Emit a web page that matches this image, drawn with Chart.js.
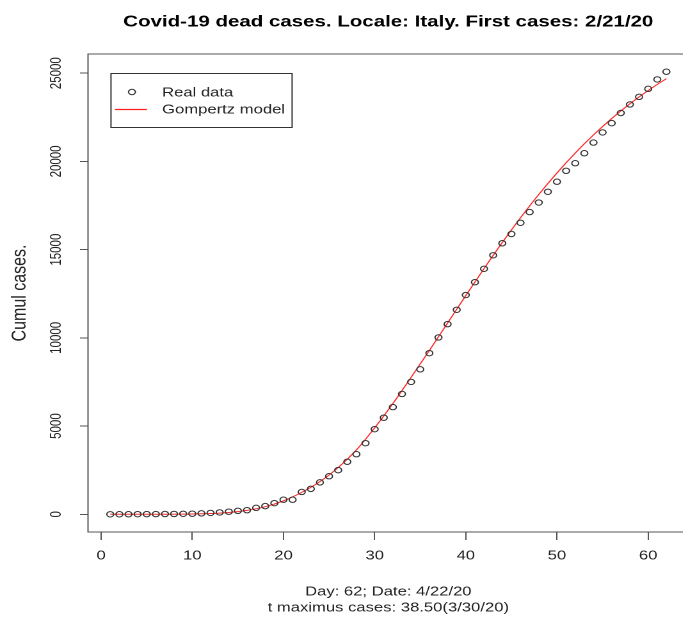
<!DOCTYPE html>
<html>
<head>
<meta charset="utf-8">
<script src="https://cdn.jsdelivr.net/npm/chart.js@4"></script>
<style>
    html, body { margin: 0; padding: 0; background: #fff; overflow: hidden; }
    /* the reference is a horizontally stretched R picture */
    #chart { transform: scale(1.28, 1); transform-origin: 0 0; }
</style>
</head>
<body>
<canvas id="chart" width="560" height="621"></canvas>
<script>
// Данные: день от первого случая и накопленное число умерших
const days = [];
for (let d = 1; d <= 62; d++) days.push(d);
const deaths = [1, 2, 3, 7, 10, 12, 17, 21, 29, 34,
    52, 79, 107, 148, 197, 233, 366, 463, 631, 827,
    827, 1266, 1441, 1809, 2158, 2503, 2978, 3405, 4032, 4825,
    5476, 6077, 6820, 7503, 8215, 9134, 10023, 10779, 11591, 12428,
    13155, 13915, 14681, 15362, 15887, 16523, 17127, 17669, 18279, 18849,
    19468, 19899, 20465, 21067, 21645, 22170, 22745, 23227, 23660, 24114,
    24648, 25085];

// Кривая Гомпертца
const modelDays = [1, 5, 10, 12, 14, 16, 18, 20, 22, 24, 26, 28, 30, 32,
    34, 36, 38, 40, 42, 44, 46, 48, 50, 52, 54, 56, 58, 60, 62];
const modelValues = [0, 1, 16, 44, 105, 224, 431, 761, 1242, 1850, 2650, 3650, 4900, 6280,
    7764, 9284, 10841, 12399, 13927, 15402, 16806, 18125, 19346, 20473, 21500, 22432, 23270, 24022, 24694];

const xTicks = [0, 10, 20, 30, 40, 50, 60];
const yTicks = [0, 5000, 10000, 15000, 20000, 25000];

const titleText = 'Covid-19 dead cases. Locale: Italy. First cases: 2/21/20';
const xTitle = ['Day: 62; Date: 4/22/20', 't maximus cases: 38.50(3/30/20)'];
const yTitle = 'Cumul cases.';

Chart.defaults.font.family = '"Liberation Sans", Arial, sans-serif';
Chart.defaults.color = '#222';

// Рамка вокруг области графика и легенда в стиле R
const rFrame = {
    id: 'rFrame',
    afterDraw(chart) {
        const ctx = chart.ctx;
        const a = chart.chartArea;
        ctx.save();
        ctx.strokeStyle = '#555';
        ctx.lineWidth = 1;
        ctx.strokeRect(a.left, a.top, a.right - a.left, a.bottom - a.top);

        // легенда
        const ds = chart.data.datasets;
        ctx.strokeStyle = '#333';
        ctx.strokeRect(86.7, 73.5, 141.5, 54);

        ctx.beginPath();
        ctx.arc(103.1, 92, 2.7, 0, Math.PI * 2);
        ctx.strokeStyle = '#333';
        ctx.stroke();

        ctx.beginPath();
        ctx.strokeStyle = '#ff2020';
        ctx.lineWidth = 1.3;
        ctx.moveTo(89.8, 109.5);
        ctx.lineTo(114.8, 109.5);
        ctx.stroke();

        ctx.fillStyle = '#222';
        ctx.font = '13px "Liberation Sans", Arial, sans-serif';
        ctx.textBaseline = 'middle';
        ctx.fillText(ds[0].label, 126.6, 93);
        ctx.fillText(ds[1].label, 126.6, 110);
        ctx.restore();
    }
};

new Chart(document.getElementById('chart'), {
    type: 'scatter',
    data: {
        datasets: [{
            label: 'Real data',
            data: days.map((d, i) => ({ x: d, y: deaths[i] })),
            pointRadius: 2.7,
            pointBorderWidth: 1,
            pointBorderColor: '#333',
            pointBackgroundColor: 'rgba(0,0,0,0)'
        }, {
            label: 'Gompertz model',
            data: modelDays.map((d, i) => ({ x: d, y: modelValues[i] })),
            showLine: true,
            pointRadius: 0,
            borderColor: '#ff2a2a',
            borderWidth: 1,
            cubicInterpolationMode: 'monotone'
        }]
    },
    options: {
        responsive: false,
        animation: false,
        devicePixelRatio: 2,
        layout: { padding: { left: 0, right: 22, top: 0, bottom: 0 } },
        plugins: {
            legend: { display: false },
            tooltip: { enabled: false },
            title: {
                display: true,
                fullSize: false,
                text: titleText,
                color: '#000',
                font: { size: 16, weight: 'bold', lineHeight: 1.2 },
                padding: { top: 12.4, bottom: 22.4 }
            }
        },
        scales: {
            x: {
                type: 'linear',
                position: 'bottom',
                min: -1.44,
                max: 64.44,
                afterBuildTicks: s => { s.ticks = xTicks.map(v => ({ value: v })); },
                afterFit: s => { s.height = 89; },
                border: { display: false },
                grid: { drawOnChartArea: false, drawTicks: true, tickLength: 8, color: '#555' },
                ticks: { font: { size: 13 }, padding: 8, maxRotation: 0, callback: v => String(v) },
                title: {
                    display: true,
                    text: xTitle,
                    font: { size: 13, lineHeight: 1.23 },
                    padding: { top: 0, bottom: 5 }
                }
            },
            y: {
                type: 'linear',
                min: -1003.4,
                max: 26088.4,
                afterBuildTicks: s => { s.ticks = yTicks.map(v => ({ value: v })); },
                afterFit: s => { s.width = 68.75; },
                border: { display: false },
                grid: { drawOnChartArea: false, drawTicks: true, tickLength: 6.25, color: '#555' },
                ticks: {
                    font: { size: 11.5 }, padding: 2,
                    minRotation: 90, maxRotation: 90, crossAlign: 'center',
                    callback: v => String(v)
                },
                title: {
                    display: true,
                    text: yTitle,
                    font: { size: 16, lineHeight: 1.2 },
                    padding: { top: 6, bottom: 0 }
                }
            }
        }
    },
    plugins: [rFrame]
});
</script>
</body>
</html>
